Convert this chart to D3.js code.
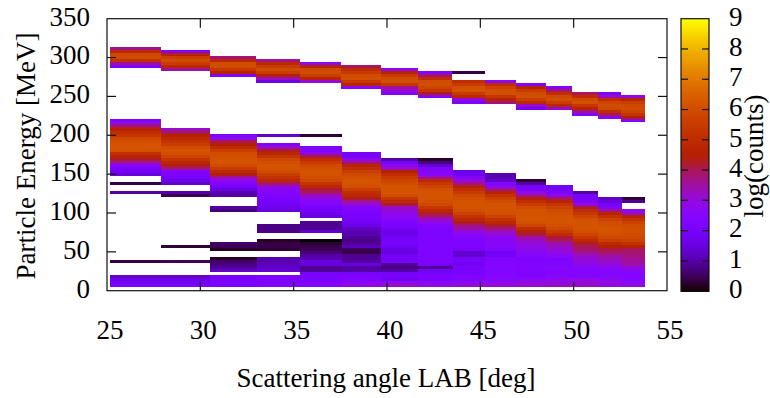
<!DOCTYPE html>
<html><head><meta charset="utf-8">
<script src="https://cdn.jsdelivr.net/npm/d3@7"></script>
<style>html,body{margin:0;padding:0;background:#fff}svg{display:block}text{font-family:"Liberation Serif",serif;fill:#000}</style>
</head><body><div id="chart"></div>
<script>
// Angle bin edges [deg]: elastic (upper) band and inelastic (lower) band
const upperEdges = [25.16,27.89,30.52,32.98,35.34,37.54,39.7,41.68,43.5,45.25,46.9,48.5,49.9,51.3,52.55,53.8];
const lowerEdges = [25.16,27.89,30.52,33.04,35.34,37.6,39.7,41.68,43.55,45.25,46.9,48.5,49.95,51.3,52.6,53.8];
// Each row bin: [top row index, log-count values going downward]
const upper01=[[79,3.7,4.8,5.9,6.0,5.2,3.6,2.2]];
const upper02=[[78,2.3,4.7,5.6,6.0,5.5,4.8,3.6]];
const upper03=[[76,3.8,4.9,6.0,6.0,5.4,4.7,2.4]];
const upper04=[[75,3.7,4.8,5.5,6.0,5.6,4.6,3.3,1.6]];
const upper05=[[74,2.7,4.7,5.9,6.0,5.6,4.7,3.1]];
const upper06=[[73,4.0,5.0,5.5,6.0,6.1,5.4,4.7,2.5]];
const upper07=[[72,2.8,4.7,5.5,6.0,6.1,5.4,3.6,3.1,2.3]];
const upper08=[[71,2.3,3.8,5.0,6.0,6.1,5.8,5.3,4.3,2.4]];
const upper09=[[71,0.4],[68,5.0,5.5,6.1,6.2,5.5,4.8,3.0,2.1]];
const upper10=[[68,2.7,5.0,5.7,6.1,6.1,5.3,4.7,3.8]];
const upper11=[[67,2.4,4.7,5.5,6.0,6.1,5.6,4.9,3.2,1.9]];
const upper12=[[66,2.3,3.9,5.0,5.9,6.1,5.6,4.8,3.1]];
const upper13=[[64,4.0,5.0,5.9,6.1,5.4,4.7,3.7,2.3]];
const upper14=[[64,2.1,3.3,5.0,5.8,6.0,5.9,5.0,4.0,2.5]];
const upper15=[[63,3.0,4.7,5.6,5.9,6.0,5.8,5.3,4.5,2.5]];
const lower01=[[55,2.3,3.0,4.0,4.6,5.0,5.4,5.9,6.1,6.2,6.2,6.1,5.2,4.7,4.3,3.5,2.5,2.1,1.8,1.5],[34,0.4],[31,1.0],[8,0.4],[3,1.3,1.6,1.9,2.0]];
const lower02=[[52,3.2,4.0,4.6,4.9,5.2,5.6,6.0,6.2,6.1,5.8,5.3,4.8,4.4,3.7,2.4,2.2,2.0,1.7,1.3],[31,1.0,0.5],[13,0.3],[8,0.5],[3,1.3,1.6,1.9,2.0]];
const lower03=[[50,2.3,2.8,4.0,4.5,5.0,5.6,6.0,6.1,6.2,6.2,6.0,5.5,4.9,4.4,3.5,2.7,2.4,2.0,1.5,1.1,1.0],[26,1.0,0.7],[14,0.6,0.5,0.2],[9,0.2,0.6,0.8,0.9,1.3],[3,2.0,2.1,2.2,2.1]];
const lower04=[[50,1.3],[47,2.3,3.2,4.3,4.8,5.3,5.9,6.1,6.2,6.2,6.0,5.6,5.2,4.8,4.0,3.0,2.6,2.4,2.2,2.1,2.0,1.9,1.7,1.5],[20,0.8,0.8,0.8],[15,0.2,0.4,0.4,0.3],[9,1.1,1.1,1.2,1.3,1.4],[3,2.2,2.2,2.2,2.3]];
const lower05=[[50,0.3],[46,2.2,2.4,2.8,4.2,5.0,5.5,5.9,6.1,6.2,6.2,6.1,5.9,5.3,4.8,4.2,3.9,3.3,2.8,2.6,2.3,2.0,1.9,1.7,1.5],[21,0.9,0.9,0.9,1.3],[15,0.0,0.3,0.4,0.5,0.7,1.0,1.1,1.5,1.5,0.9,0.9,2.0,2.1,2.2,2.2,2.4]];
const lower06=[[44,2.0,2.1,2.8,3.8,4.7,5.1,5.6,5.9,6.1,6.2,6.2,6.1,5.6,5.1,4.8,4.3,3.6,3.0,2.4,2.2,2.1,2.1,2.0,1.9,1.6,1.3,1.1,1.1,0.9,0.8,0.9,1.2,0.5,0.4,0.9,0.9,1.0,1.5,1.0,1.0,2.0,2.2,2.3,2.6,3.0]];
const lower07=[[42,1.0,2.0,2.6,3.3,4.5,5.1,5.5,5.8,6.0,6.2,6.2,6.2,6.0,5.4,4.9,4.2,3.3,3.0,2.8,2.7,2.5,2.2,2.1,1.9,1.6,1.7,1.9,2.0,2.0,1.8,1.6,1.5,1.9,1.9,2.0,0.9,0.8,1.0,2.0,2.0,1.9,2.8,3.2]];
const lower08=[[42,0.2,0.8,1.4,2.2,2.4,2.6,3.5,4.9,5.4,5.8,6.1,6.2,6.2,6.2,6.1,5.9,5.4,4.8,4.3,3.8,3.2,2.8,2.4,2.2,2.2,2.2,2.2,2.2,2.2,2.2,2.2,2.2,2.2,2.2,2.2,2.1,0.9,1.9,2.0,2.2,2.1,2.6,3.0]];
const lower09=[[38,1.6,1.8,2.4,3.1,3.6,4.6,5.1,5.5,5.9,6.1,6.2,6.2,6.2,6.0,5.7,5.2,4.8,4.3,3.8,3.4,3.0,2.6,2.4,2.2,2.2,2.2,2.1,1.3,1.4,2.0,2.0,1.8,2.1,2.1,2.1,2.3,2.3,2.7,3.1]];
const lower10=[[37,1.1,1.1,1.3,2.3,2.7,3.7,4.7,5.2,5.7,6.0,6.2,6.2,6.2,6.1,5.7,5.2,4.8,4.3,3.7,3.4,3.0,2.6,2.6,2.5,2.5,2.3,1.8,1.9,2.3,2.3,2.4,2.4,2.4,2.4,2.5,2.5,2.8,3.1]];
const lower11=[[35,0.3,1.0,2.0,2.2,2.9,3.6,4.6,5.1,5.6,6.0,6.2,6.2,6.2,6.2,6.1,5.8,5.1,4.6,4.1,3.5,3.2,3.0,2.9,2.8,2.6,2.5,2.2,2.2,2.3,2.3,2.3,2.2,2.3,2.6,3.0,3.1]];
const lower12=[[33,1.8,1.9,2.2,2.8,4.0,4.7,5.3,5.7,6.0,6.1,6.2,6.2,6.2,6.1,5.9,5.5,5.0,4.2,3.9,3.5,3.2,3.1,2.9,2.6,2.3,2.3,2.3,2.5,2.4,2.4,2.5,2.8,3.0,3.2]];
const lower13=[[31,1.0,2.0,2.1,2.2,3.0,4.2,5.0,5.4,5.8,6.1,6.2,6.2,6.2,6.1,5.8,5.4,4.9,4.3,4.0,3.9,3.6,3.3,3.0,3.0,2.8,2.5,2.4,2.4,2.4,2.9,3.1,3.2]];
const lower14=[[29,1.3,1.5,2.0,2.3,3.7,4.7,5.2,5.7,6.0,6.1,6.2,6.2,6.1,5.9,5.6,4.9,4.5,4.1,3.9,3.6,3.3,3.2,3.0,2.7,2.5,2.4,2.5,2.8,2.9,3.0]];
const lower15=[[29,0.3,0.9],[25,2.9,3.2,4.7,5.2,5.7,6.0,6.1,6.1,6.0,5.9,5.7,5.2,4.6,4.0,3.8,3.8,3.6,3.6,3.4,3.0,2.6,2.4,2.4,2.4,2.6,3.0]];
const upperBand=[upper01,upper02,upper03,upper04,upper05,upper06,upper07,upper08,upper09,upper10,upper11,upper12,upper13,upper14,upper15];
const lowerBand=[lower01,lower02,lower03,lower04,lower05,lower06,lower07,lower08,lower09,lower10,lower11,lower12,lower13,lower14,lower15];
const xTicks=[25,30,35,40,45,50,55];
const yTicks=[0,50,100,150,200,250,300,350];
const cbTicks=[0,1,2,3,4,5,6,7,8,9];
const rowBase=5.1, rowStep=3.86; // MeV

const W=770,H=398;
const x=d3.scaleLinear().domain([25,55]).range([107,667]);
const y=d3.scaleLinear().domain([0,350]).range([290.7,18.7]);
const cb=d3.scaleLinear().domain([0,9]).range([291.2,18.7]);
// gnuplot default palette (rgbformulae 7,5,15)
function pal(v){const t=Math.max(0,Math.min(1,v/9));
  const r=Math.sqrt(t),g=t*t*t,b=Math.max(0,Math.sin(2*Math.PI*t));
  return d3.rgb(r*255,g*255,b*255).formatHex();}

const svg=d3.select('#chart').append('svg').attr('width',W).attr('height',H);
function cells(band,edges){const out=[];
  band.forEach((col,i)=>col.forEach(seg=>seg.slice(1).forEach((v,j)=>{
    const k=seg[0]-j;
    out.push({a0:edges[i],a1:edges[i+1],e0:rowBase+rowStep*k,e1:rowBase+rowStep*(k+1),v});
  })));return out;}
const all=cells(lowerBand,lowerEdges).concat(cells(upperBand,upperEdges));
svg.append('g').attr('shape-rendering','crispEdges').selectAll('rect').data(all).join('rect')
  .attr('x',d=>x(d.a0)).attr('width',d=>x(d.a1)-x(d.a0))
  .attr('y',d=>y(d.e1)).attr('height',d=>y(d.e0)-y(d.e1))
  .attr('fill',d=>pal(d.v));

// Frame + ticks
const frame=svg.append('g').attr('stroke','#111').attr('stroke-width',1.2).attr('fill','none');
frame.append('rect').attr('x',x(25)).attr('y',y(350)).attr('width',x(55)-x(25)).attr('height',y(0)-y(350));
frame.selectAll('.xb').data(xTicks.slice(1,-1)).join('line').attr('x1',x).attr('x2',x).attr('y1',y(0)).attr('y2',y(0)-9);
frame.selectAll('.xt').data(xTicks.slice(1,-1)).join('line').attr('x1',x).attr('x2',x).attr('y1',y(350)).attr('y2',y(350)+9);
frame.selectAll('.yl').data(yTicks.slice(1,-1)).join('line').attr('y1',y).attr('y2',y).attr('x1',x(25)).attr('x2',x(25)+9);
frame.selectAll('.yr').data(yTicks.slice(1,-1)).join('line').attr('y1',y).attr('y2',y).attr('x1',x(55)).attr('x2',x(55)-9);

const fs=27;
svg.selectAll('.xl').data(xTicks).join('text').attr('x',d=>x(d)+3).attr('y',339).attr('text-anchor','middle').attr('font-size',fs).text(d=>d);
svg.selectAll('.yt').data(yTicks).join('text').attr('x',90).attr('y',d=>y(d)+6.8).attr('text-anchor','end').attr('font-size',fs).text(d=>d);
svg.append('text').attr('x',386).attr('y',386.7).attr('text-anchor','middle').attr('font-size',fs).text('Scattering angle LAB [deg]');
svg.append('text').attr('transform','translate(34.5,156) rotate(-90)').attr('text-anchor','middle').attr('font-size',fs).text('Particle Energy [MeV]');

// Colour box
const cbX0=681,cbX1=709;
const steps=d3.range(0,9,9/128);
svg.append('g').attr('shape-rendering','crispEdges').selectAll('rect').data(steps).join('rect')
  .attr('x',cbX0).attr('width',cbX1-cbX0).attr('y',d=>cb(d+9/128)).attr('height',d=>cb(d)-cb(d+9/128)+0.5).attr('fill',d=>pal(d+4.5/128));
const cf=svg.append('g').attr('stroke','#111').attr('stroke-width',1.2).attr('fill','none');
cf.append('rect').attr('x',cbX0).attr('y',cb(9)).attr('width',cbX1-cbX0).attr('height',cb(0)-cb(9));
cf.selectAll('.c1').data(cbTicks.slice(1,-1)).join('line').attr('y1',cb).attr('y2',cb).attr('x1',cbX0).attr('x2',cbX0+7);
cf.selectAll('.c2').data(cbTicks.slice(1,-1)).join('line').attr('y1',cb).attr('y2',cb).attr('x1',cbX1).attr('x2',cbX1-7);
svg.selectAll('.cl').data(cbTicks).join('text').attr('x',729).attr('y',d=>cb(d)+6.8).attr('font-size',fs).text(d=>d);
svg.append('text').attr('transform','translate(762.7,156) rotate(-90)').attr('text-anchor','middle').attr('font-size',fs).text('log(counts)');
</script></body></html>
